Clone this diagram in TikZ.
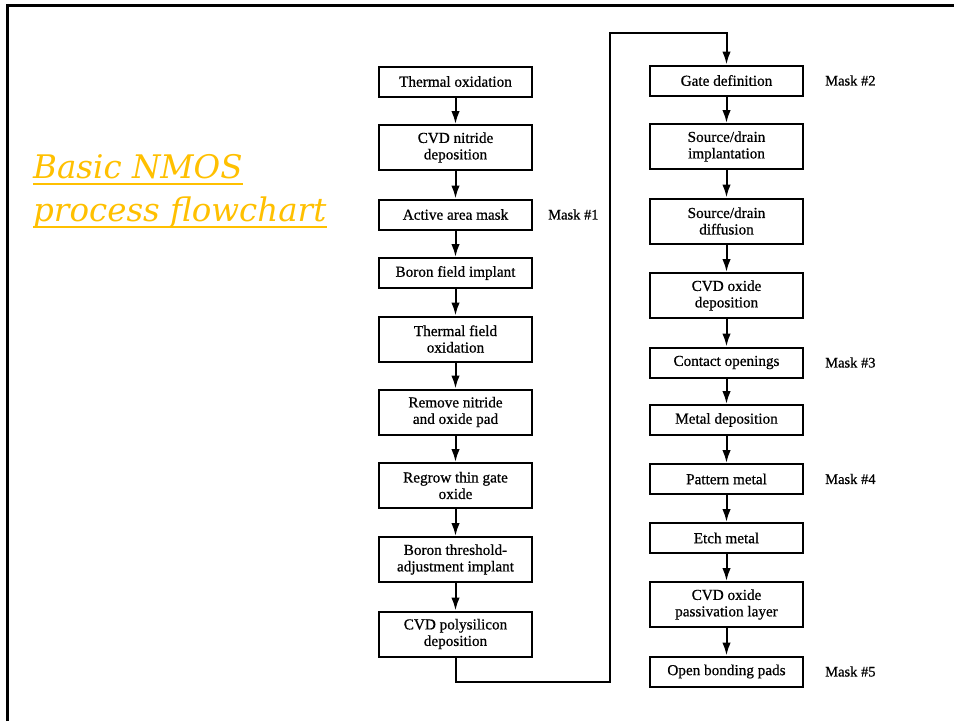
\documentclass[tikz,border=0pt]{standalone}
\usepackage{fontspec}
\setmainfont{Liberation Serif}
\newfontfamily\boxfont[FakeBold=0.7]{Liberation Serif}
\newfontfamily\titlefont{DejaVu Serif}
\usetikzlibrary{arrows.meta}
\definecolor{gold}{HTML}{FFC000}
\begin{document}
\begin{tikzpicture}[x=1pt,y=-1pt,
  box/.style={draw=black,line width=2pt,minimum width=153pt,inner sep=0pt,align=center,
    font=\boxfont\fontsize{15.2}{16.5}\selectfont},
  sbox/.style={box,minimum height=30pt},
  dbox/.style={box,minimum height=45pt},
  arr/.style={line width=2pt,-{Latex[length=13pt,width=8.5pt]}},
  mask/.style={anchor=west,inner sep=0pt,font=\boxfont\fontsize{14.5}{16}\selectfont},
  ttl/.style={anchor=base west,inner sep=0pt,text=gold,font=\titlefont\itshape\fontsize{32.5}{36}\selectfont}]
\useasboundingbox (0,0) rectangle (954,721);
\fill[white] (0,0) rectangle (954,721);
\draw[line width=2.6pt] (7.7,721) -- (7.7,5.6) -- (954,5.6);
% title
\node[ttl] (t1) at (33,178) {Basic NMOS};
\node[ttl] (t2) at (33,221) {process flowchart};
\draw[gold,line width=1.6pt] ([yshift=-6pt]t1.base west) -- ([yshift=-6pt]t1.base east);
\draw[gold,line width=1.6pt] ([yshift=-6pt]t2.base west) -- ([yshift=-6pt]t2.base east);
% left column
\node[sbox] (L1) at (455.5,81.5) {Thermal oxidation};
\node[dbox] (L2) at (455.5,147.5) {CVD nitride\\deposition};
\node[sbox] (L3) at (455.5,214.5) {Active area mask};
\node[sbox] (L4) at (455.5,273) {Boron field implant};
\node[dbox] (L5) at (455.5,339) {Thermal field\\oxidation};
\node[dbox] (L6) at (455.5,412) {Remove nitride\\and oxide pad};
\node[dbox] (L7) at (455.5,485.5) {Regrow thin gate\\oxide};
\node[dbox] (L8) at (455.5,559.5) {Boron threshold-\\adjustment implant};
\node[dbox] (L9) at (455.5,634) {CVD polysilicon\\deposition};
% right column
\node[sbox] (R1) at (726.5,80.5) {Gate definition};
\node[dbox] (R2) at (726.5,146.5) {Source/drain\\implantation};
\node[dbox] (R3) at (726.5,221) {Source/drain\\diffusion};
\node[dbox] (R4) at (726.5,295.5) {CVD oxide\\deposition};
\node[sbox] (R5) at (726.5,362.5) {Contact openings};
\node[sbox] (R6) at (726.5,420) {Metal deposition};
\node[sbox] (R7) at (726.5,479) {Pattern metal};
\node[sbox] (R8) at (726.5,538) {Etch metal};
\node[dbox] (R9) at (726.5,604.5) {CVD oxide\\passivation layer};
\node[sbox] (R10) at (726.5,671.5) {Open bonding pads};
% mask labels
\node[mask] (M1) at (548,214.5) {Mask \#1};
\node[mask] (M2) at (825,80.5) {Mask \#2};
\node[mask] (M3) at (825,362.5) {Mask \#3};
\node[mask] (M4) at (825,479) {Mask \#4};
\node[mask] (M5) at (825,671.5) {Mask \#5};
% arrows
\foreach \a/\b in {L1/L2,L2/L3,L3/L4,L4/L5,L5/L6,L6/L7,L7/L8,L8/L9,
  R1/R2,R2/R3,R3/R4,R4/R5,R5/R6,R6/R7,R7/R8,R8/R9,R9/R10}
  \draw[arr] (\a.south) -- (\b.north);
\coordinate (c1) at (609.5,681.5);
\coordinate (c2) at (609.5,33);
\draw[arr] (L9.south) |- (c1) -- (c2) -| (R1.north);
\end{tikzpicture}
\end{document}
